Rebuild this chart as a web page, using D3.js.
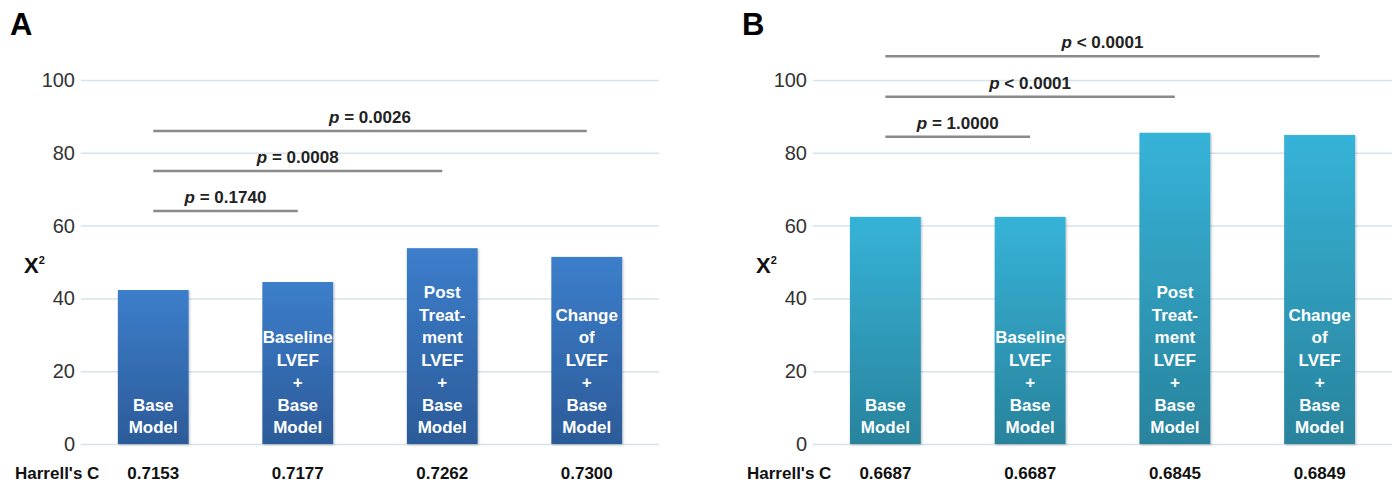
<!DOCTYPE html>
<html>
    <head>
        <meta charset="utf-8">
        <title> Chi-square of LVEF models </title>
        <script src="https://d3js.org/d3.v7.min.js"></script>
        <style>
            body { margin: 0; background: white; }
            text { font-family: Arial, "Liberation Sans", sans-serif; }
        </style>
    </head>

    <body>

        <div id="BarChart"></div>

        <script type="text/javascript">

            // data
            var models = ["Base Model", "Baseline LVEF + Base Model", "Post Treatment LVEF + Base Model", "Change of LVEF + Base Model"];
            var barLines = [
                ["Base", "Model"],
                ["Baseline", "LVEF", "+", "Base", "Model"],
                ["Post", "Treat-", "ment", "LVEF", "+", "Base", "Model"],
                ["Change", "of", "LVEF", "+", "Base", "Model"]
            ];
            var yTicks = [0, 20, 40, 60, 80, 100];

            var chiA = [42.3, 44.5, 53.8, 51.4];
            var harrellA = ["0.7153", "0.7177", "0.7262", "0.7300"];
            var pTextA = ["= 0.1740", "= 0.0008", "= 0.0026"];
            var pLevelA = [64, 75, 86];

            var chiB = [62.4, 62.4, 85.5, 84.9];
            var harrellB = ["0.6687", "0.6687", "0.6845", "0.6849"];
            var pTextB = ["= 1.0000", "< 0.0001", "< 0.0001"];
            var pLevelB = [84.4, 95.4, 106.5];

            // every p line goes from the base model to model i+1
            var pTarget = [1, 2, 3];

            var svg = d3.select("#BarChart")
                .append("svg")
                .attr("width", 1395)
                .attr("height", 484);

            var defs = svg.append("defs");

            function makeGradient(id, top, bottom) {
                var g = defs.append("linearGradient")
                    .attr("id", id)
                    .attr("x1", 0).attr("y1", 0)
                    .attr("x2", 0).attr("y2", 1);
                g.append("stop").attr("offset", "0%").attr("stop-color", top);
                g.append("stop").attr("offset", "100%").attr("stop-color", bottom);
            }
            makeGradient("gradA", "#3c7ecb", "#2c5b99");
            makeGradient("gradB", "#36b3d8", "#29839c");

            var shadow = defs.append("filter").attr("id", "shadow")
                .attr("x", "-10%").attr("y", "-10%").attr("width", "130%").attr("height", "130%");
            shadow.append("feDropShadow")
                .attr("dx", 1).attr("dy", 1)
                .attr("stdDeviation", 1.2)
                .attr("flood-color", "#000")
                .attr("flood-opacity", 0.25);

            var y = d3.scaleLinear()
                .domain([0, 100])
                .range([444, 80]);

            function drawPanel(letter, x0, x1, chi, harrell, pText, pLevel, fillId) {

                var g = svg.append("g");

                var x = d3.scaleBand()
                    .domain(models)
                    .range([x0, x1])
                    .paddingInner(0.51)
                    .paddingOuter(0.255);

                // grid + tick labels
                var axis = g.append("g")
                    .attr("transform", "translate(" + x0 + ",0)")
                    .call(d3.axisLeft(y)
                        .tickValues(yTicks)
                        .tickSize(-(x1 - x0))
                        .tickPadding(6));
                axis.select(".domain").remove();
                axis.selectAll("line")
                    .attr("stroke", "#d5e3ed")
                    .attr("stroke-width", 1.5);
                axis.selectAll("text")
                    .attr("fill", "#333")
                    .style("font-size", "20px");

                // bars
                g.selectAll(".bar")
                    .data(chi)
                    .enter()
                    .append("rect")
                    .attr("x", function(d, i) { return x(models[i]); })
                    .attr("y", function(d) { return y(d); })
                    .attr("width", x.bandwidth())
                    .attr("height", function(d) { return y(0) - y(d); })
                    .attr("fill", "url(#" + fillId + ")")
                    .attr("filter", "url(#shadow)");

                // labels inside the bars, stacked up from the bottom
                models.forEach(function(m, i) {
                    var lines = barLines[i];
                    var cx = x(m) + x.bandwidth() / 2;
                    lines.forEach(function(t, j) {
                        g.append("text")
                            .attr("x", cx)
                            .attr("y", y(0) - 11 - (lines.length - 1 - j) * 22.5)
                            .attr("text-anchor", "middle")
                            .attr("fill", "white")
                            .style("font-size", "17px")
                            .style("font-weight", "bold")
                            .text(t);
                    });
                });

                // p value brackets
                pLevel.forEach(function(lv, i) {
                    var xa = x(models[0]) + x.bandwidth() / 2;
                    var xb = x(models[pTarget[i]]) + x.bandwidth() / 2;
                    g.append("line")
                        .attr("x1", xa).attr("x2", xb)
                        .attr("y1", y(lv)).attr("y2", y(lv))
                        .attr("stroke", "#8a8a8a")
                        .attr("stroke-width", 2.5);
                    var t = g.append("text")
                        .attr("x", (xa + xb) / 2)
                        .attr("y", y(lv) - 8)
                        .attr("text-anchor", "middle")
                        .attr("fill", "#222")
                        .style("font-size", "17px")
                        .style("font-weight", "bold");
                    t.append("tspan").style("font-style", "italic").text("p");
                    t.append("tspan").text(" " + pText[i]);
                });

                // Harrell's C row
                g.append("text")
                    .attr("x", x0 - 66)
                    .attr("y", 479)
                    .attr("fill", "#111")
                    .style("font-size", "17px")
                    .style("font-weight", "bold")
                    .text("Harrell's C");
                g.selectAll(".hc")
                    .data(harrell)
                    .enter()
                    .append("text")
                    .attr("x", function(d, i) { return x(models[i]) + x.bandwidth() / 2; })
                    .attr("y", 479)
                    .attr("text-anchor", "middle")
                    .attr("fill", "#111")
                    .style("font-size", "17px")
                    .style("font-weight", "bold")
                    .text(function(d) { return d; });

                // axis title
                var yt = g.append("text")
                    .attr("x", x0 - 57)
                    .attr("y", 273)
                    .attr("fill", "#111")
                    .style("font-size", "22px")
                    .style("font-weight", "bold");
                yt.append("tspan").text("X");
                yt.append("tspan")
                    .attr("dy", -9)
                    .style("font-size", "11px")
                    .text("2");

                // panel letter
                g.append("text")
                    .attr("x", x0 - 71)
                    .attr("y", 35)
                    .attr("fill", "#000")
                    .style("font-size", "31px")
                    .style("font-weight", "bold")
                    .text(letter);
            }

            drawPanel("A", 81, 659, chiA, harrellA, pTextA, pLevelA, "gradA");
            drawPanel("B", 813, 1392, chiB, harrellB, pTextB, pLevelB, "gradB");

        </script>
    </body>
</html>
